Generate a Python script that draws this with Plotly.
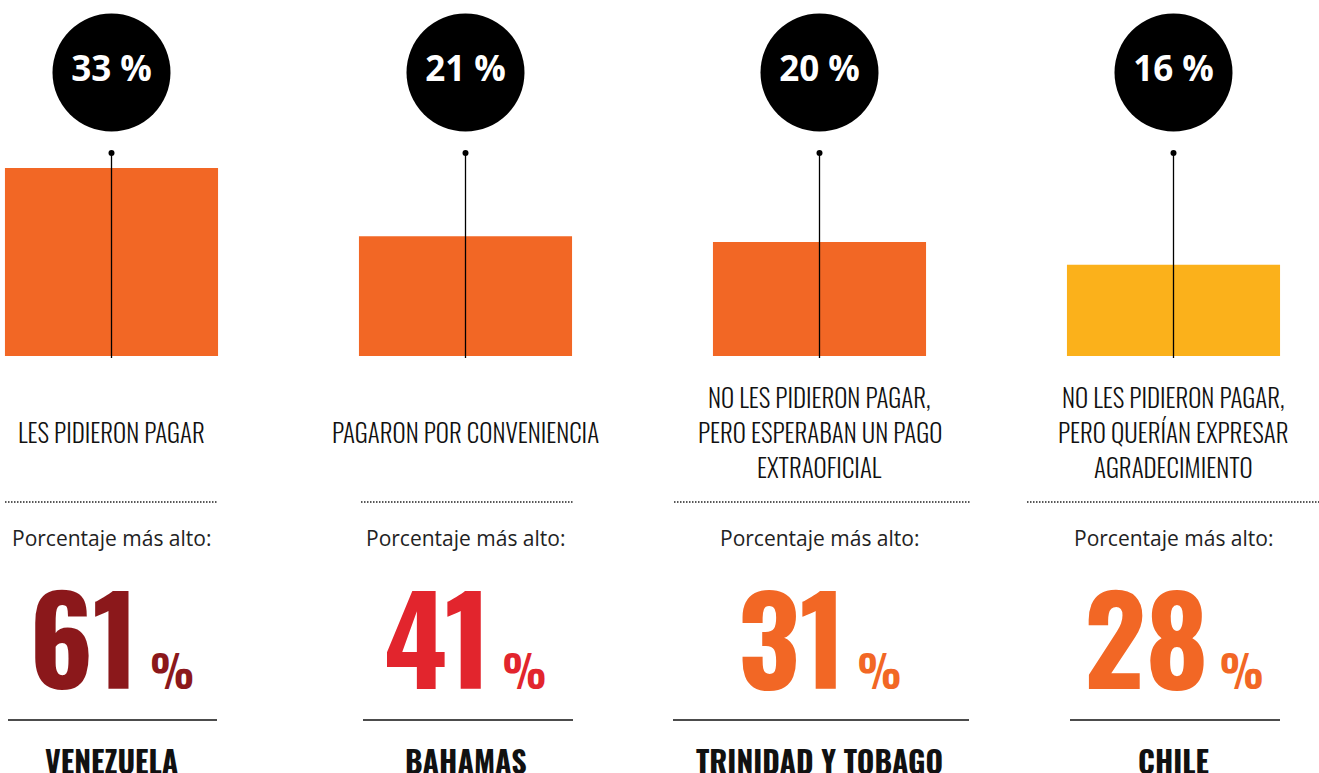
import plotly.graph_objects as go

# ---------------- data ----------------
categories = ["LES PIDIERON PAGAR",
              "PAGARON POR CONVENIENCIA",
              "NO LES PIDIERON PAGAR,<br>PERO ESPERABAN UN PAGO<br>EXTRAOFICIAL",
              "NO LES PIDIERON PAGAR,<br>PERO QUERÍAN EXPRESAR<br>AGRADECIMIENTO"]
shares = [33, 21, 20, 16]
top_countries = ["VENEZUELA", "BAHAMAS", "TRINIDAD Y TOBAGO", "CHILE"]
top_values = [61, 41, 31, 28]
subtitle = "Porcentaje más alto:"

# ---------------- styles / layout constants ----------------
W, H = 1319, 773
bar_colors = ["#F26725", "#F26725", "#F26725", "#FBB11B"]
top_colors = ["#8B181B", "#E2252D", "#F26725", "#F26725"]
cond = "Oswald, Roboto Condensed, sans-serif"
sans = "Open Sans, Noto Sans, sans-serif"

PX_PER_UNIT = 5.7
BASE_PX = 356          # bar baseline (pixels from top)
y_min = -(H - BASE_PX) / PX_PER_UNIT
y_max = BASE_PX / PX_PER_UNIT
x_min = -111.5 / 354
x_max = (W - 111.5) / 354


def ydat(px):
    return (BASE_PX - px) / PX_PER_UNIT


def ypap(px):
    return 1 - px / H


dotted_ext = [(5, 218), (361, 574), (674, 970), (1027, 1319)]
solid_ext = [(8, 217), (363, 573), (673, 969), (1070, 1280)]

fig = go.Figure()

# bars
fig.add_trace(go.Bar(x=categories, y=shares, marker=dict(color=bar_colors, line=dict(width=0)),
                     width=0.602, hoverinfo="skip", showlegend=False))

# vertical guide lines with dot on top
lx, ly = [], []
for c in categories:
    lx += [c, c, None]
    ly += [ydat(153), ydat(358), None]
fig.add_trace(go.Scatter(x=lx, y=ly, mode="lines", line=dict(color="black", width=1.3),
                         hoverinfo="skip", showlegend=False))
fig.add_trace(go.Scatter(x=categories, y=[ydat(153)] * 4, mode="markers",
                         marker=dict(color="black", size=6), hoverinfo="skip", showlegend=False))

# black circles with share text
fig.add_trace(go.Scatter(x=categories, y=[ydat(72.5)] * 4, mode="markers+text",
                         marker=dict(color="black", size=118, line=dict(width=0)),
                         text=[f"{v} %" for v in shares], textposition="middle center",
                         textfont=dict(family=sans, size=35, color="white", weight=700),
                         hoverinfo="skip", showlegend=False))

shapes = []
annotations = []
for i, c in enumerate(categories):
    # label lines
    lines = c.split("<br>")
    n = len(lines)
    for j, ln in enumerate(lines):
        cy = 431 + (j - (n - 1) / 2) * 35
        annotations.append(dict(x=c, xref="x", y=ypap(cy), yref="paper", text=ln,
                                showarrow=False, xanchor="center", yanchor="middle",
                                font=dict(family=cond, size=25, weight=300, color="#111")))
    # dotted separator
    x0, x1 = dotted_ext[i]
    shapes.append(dict(type="line", xref="paper", yref="paper", x0=x0 / W, x1=x1 / W,
                       y0=ypap(502), y1=ypap(502),
                       line=dict(color="#222", width=1.5, dash="1.5px,1.5px")))
    # subtitle
    annotations.append(dict(x=c, xref="x", y=ypap(537.5), yref="paper", text=subtitle,
                            showarrow=False, xanchor="center", yanchor="middle",
                            font=dict(family=sans, size=21, color="#222")))
    # big number
    annotations.append(dict(x=c, xref="x", y=ypap(634.5), yref="paper",
                            text=f"{top_values[i]}<span style='font-size:44px'> %</span>",
                            showarrow=False, xanchor="center", yanchor="middle",
                            font=dict(family=cond, size=120, weight=700, color=top_colors[i])))
    # solid separator
    x0, x1 = solid_ext[i]
    shapes.append(dict(type="line", xref="paper", yref="paper", x0=x0 / W, x1=x1 / W,
                       y0=ypap(720), y1=ypap(720), line=dict(color="#111", width=1.6)))
    # country
    annotations.append(dict(x=c, xref="x", y=ypap(760), yref="paper", text=top_countries[i],
                            showarrow=False, xanchor="center", yanchor="middle",
                            font=dict(family=cond, size=30, weight=700, color="#111")))

fig.update_layout(
    width=W, height=H, margin=dict(l=0, r=0, t=0, b=0),
    paper_bgcolor="white", plot_bgcolor="white",
    xaxis=dict(range=[x_min, x_max], visible=False, fixedrange=True),
    yaxis=dict(range=[y_min, y_max], visible=False, fixedrange=True),
    shapes=shapes, annotations=annotations, showlegend=False,
)

fig.write_html("out.html", config={"displayModeBar": False},
               post_script="document.body.style.margin='0px';")
